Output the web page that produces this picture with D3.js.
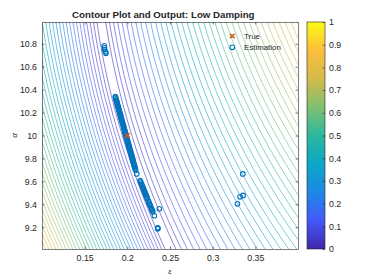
<!DOCTYPE html>
<html>
<head>
<meta charset="utf-8">
<script src="https://cdn.jsdelivr.net/npm/d3@7"></script>
<style>
  body { margin: 0; background: #fff; }
  text { font-family: "Liberation Sans", Arial, sans-serif; fill: #262626; }
</style>
</head>
<body>
<div id="chart"></div>
<script>
// ------------------- //
// DATA
// ------------------- //

// true parameter
var trueEps = [0.2];
var trueAlpha = [10.0];

// estimates (eps, alpha)
var estEps = [
  // top cluster
  0.1729, 0.1732, 0.1733, 0.1744, 0.1750,
  // main streak
  0.1860, 0.1861, 0.1868, 0.1867, 0.1875, 0.1876, 0.1883, 0.1882, 0.1890, 0.1889,
  0.1897, 0.1898, 0.1905, 0.1904, 0.1912, 0.1913, 0.1920, 0.1919, 0.1927, 0.1926,
  0.1934, 0.1935, 0.1942, 0.1941, 0.1949, 0.1950, 0.1957, 0.1956, 0.1964, 0.1963,
  0.1972, 0.1971, 0.1979, 0.1978, 0.1987, 0.1986, 0.1994, 0.1993, 0.2001, 0.2000,
  0.2009, 0.2008, 0.2016, 0.2015, 0.2024, 0.2023, 0.2031, 0.2030, 0.2039, 0.2038,
  0.2046, 0.2045, 0.2054, 0.2053, 0.2061, 0.2060, 0.2068, 0.2067, 0.2076, 0.2075,
  0.2083, 0.2082, 0.2091, 0.2090, 0.2098, 0.2110,
  // lower streak
  0.2149, 0.2156, 0.2160, 0.2168, 0.2172, 0.2180, 0.2184, 0.2192, 0.2196, 0.2204,
  0.2208, 0.2216, 0.2220, 0.2228, 0.2232, 0.2246, 0.2250, 0.2258, 0.2262, 0.2270,
  0.2282, 0.2286, 0.2294, 0.2298, 0.2317,
  // isolated and bottom cluster
  0.2375, 0.2355, 0.2357, 0.2356,
  // outliers on the right
  0.3353, 0.3356, 0.3321, 0.3290
];
var estAlpha = [
  10.783, 10.765, 10.748, 10.730, 10.717,
  10.340, 10.331, 10.320, 10.309, 10.300, 10.291, 10.280, 10.269, 10.260, 10.251,
  10.240, 10.229, 10.220, 10.211, 10.200, 10.189, 10.180, 10.171, 10.160, 10.149,
  10.140, 10.131, 10.120, 10.109, 10.100, 10.091, 10.080, 10.069, 10.060, 10.051,
  10.040, 10.029, 10.020, 10.011, 10.000, 9.989, 9.980, 9.971, 9.960, 9.949,
  9.940, 9.931, 9.920, 9.909, 9.900, 9.891, 9.880, 9.869, 9.860, 9.851,
  9.840, 9.829, 9.820, 9.811, 9.800, 9.789, 9.780, 9.771, 9.760, 9.749,
  9.740, 9.731, 9.720, 9.709, 9.697, 9.665,
  9.607, 9.596, 9.585, 9.574, 9.563, 9.552, 9.541, 9.530, 9.519, 9.508,
  9.497, 9.486, 9.475, 9.464, 9.453, 9.431, 9.420, 9.409, 9.398, 9.387,
  9.365, 9.354, 9.343, 9.334, 9.300,
  9.361, 9.195, 9.190, 9.186,
  9.665, 9.477, 9.465, 9.404
];

var xTicks = [0.15, 0.2, 0.25, 0.3, 0.35];
var yTicks = [9.2, 9.4, 9.6, 9.8, 10, 10.2, 10.4, 10.6, 10.8];
var cbTicks = [0, 0.1, 0.2, 0.3, 0.4, 0.5, 0.6, 0.7, 0.8, 0.9, 1];

// parula colormap stops
var parulaStops = ["#3e26a8", "#4658fc", "#1e88e4", "#0ca7c7", "#2cb89c",
                   "#80c070", "#d2bb4a", "#fdbe3c", "#f9fb15"];

// normalized cost surface, shaped after the contour spacing in the picture
var valleyCoef = [0.1995, -0.0403, 0.0104]; // eps of the valley floor vs (alpha - 10)
var leftSlope = 5.5;
var rightScale = 2.5, rightPow = 0.86, rightTilt = 0.17;
var firstLevel = 0.03, levelStep = 0.022;


// ------------------- //
// SETUP
// ------------------- //

var W = 374, H = 280;
var plot = {left: 42, right: 298, top: 22, bottom: 249};
var cb = {left: 307, right: 325};

var svg = d3.select("#chart")
  .append("svg")
    .attr("width", W)
    .attr("height", H);

var x = d3.scaleLinear().domain([0.1, 0.4]).range([plot.left, plot.right]);
var y = d3.scaleLinear().domain([9.01, 10.99]).range([plot.bottom, plot.top]);

var parula = d3.scaleLinear()
  .domain(parulaStops.map(function(d, i) { return i / (parulaStops.length - 1); }))
  .range(parulaStops)
  .clamp(true);

var defs = svg.append("defs");
defs.append("clipPath").attr("id", "clip")
  .append("rect")
    .attr("x", plot.left).attr("y", plot.top)
    .attr("width", plot.right - plot.left)
    .attr("height", plot.bottom - plot.top);


// ------------------- //
// CONTOURS
// ------------------- //

function cost(e, a) {
  var t = a - 10;
  var ev = valleyCoef[0] + valleyCoef[1] * t + valleyCoef[2] * t * t;
  var d = e - ev;
  if (d < 0) return leftSlope * -d;
  return rightScale * Math.pow(d, rightPow) * (1 + rightTilt * t);
}

var pad = 3;
var gx0 = plot.left - pad, gy0 = plot.top - pad;
var nx = Math.ceil(plot.right - plot.left) + 2 * pad;
var ny = Math.ceil(plot.bottom - plot.top) + 2 * pad;
var grid = new Array(nx * ny);
for (var j = 0; j < ny; j++) {
  for (var i = 0; i < nx; i++) {
    grid[j * nx + i] = cost(x.invert(gx0 + i), y.invert(gy0 + j));
  }
}

var levels = d3.range(firstLevel, 1, levelStep);
var contours = d3.contours().size([nx, ny]).thresholds(levels)(grid);

svg.append("g")
    .attr("clip-path", "url(#clip)")
  .append("g")
    .attr("transform", "translate(" + (gx0 - 0.5) + "," + (gy0 - 0.5) + ")")
  .selectAll("path")
  .data(contours)
  .enter()
  .append("path")
    .attr("d", d3.geoPath())
    .attr("fill", "none")
    .attr("stroke", function(d) { return parula(d.value); })
    .attr("stroke-width", 0.6);


// ------------------- //
// AXES
// ------------------- //

var axisCol = "#262626";
function styleAxis(g) {
  g.selectAll("path, line").attr("stroke", axisCol).attr("stroke-width", 0.6);
  g.selectAll("text").style("font-size", "8.8px").attr("fill", axisCol);
}

svg.append("g")
  .attr("transform", "translate(0," + plot.bottom + ")")
  .call(d3.axisBottom(x).tickValues(xTicks).tickSizeInner(-2.5).tickSizeOuter(0).tickPadding(6)
    .tickFormat(function(d) { return d; }))
  .call(styleAxis);
svg.append("g")
  .attr("transform", "translate(0," + plot.top + ")")
  .call(d3.axisTop(x).tickValues(xTicks).tickSizeInner(-2.5).tickSizeOuter(0).tickFormat(""))
  .call(styleAxis);
svg.append("g")
  .attr("transform", "translate(" + plot.left + ",0)")
  .call(d3.axisLeft(y).tickValues(yTicks).tickSizeInner(-2.5).tickSizeOuter(0).tickPadding(5)
    .tickFormat(function(d) { return d; }))
  .call(styleAxis);
svg.append("g")
  .attr("transform", "translate(" + plot.right + ",0)")
  .call(d3.axisRight(y).tickValues(yTicks).tickSizeInner(-2.5).tickSizeOuter(0).tickFormat(""))
  .call(styleAxis);

// axis labels
svg.append("text")
  .attr("x", (plot.left + plot.right) / 2)
  .attr("y", 274)
  .attr("text-anchor", "middle")
  .style("font-size", "8px")
  .style("font-style", "italic")
  .text("ε");
svg.append("text")
  .attr("transform", "translate(17," + ((plot.top + plot.bottom) / 2) + ") rotate(-90)")
  .attr("text-anchor", "middle")
  .style("font-size", "8px")
  .style("font-style", "italic")
  .text("α");

// title
svg.append("text")
  .attr("x", 163.3)
  .attr("y", 17.5)
  .attr("text-anchor", "middle")
  .style("font-size", "9.7px")
  .style("font-weight", "bold")
  .attr("fill", "#000")
  .text("Contour Plot and Output: Low Damping");


// ------------------- //
// MARKERS
// ------------------- //

var est = estEps.map(function(e, i) { return {e: e, a: estAlpha[i]}; });

svg.append("g")
  .selectAll("circle")
  .data(est)
  .enter()
  .append("circle")
    .attr("cx", function(d) { return x(d.e); })
    .attr("cy", function(d) { return y(d.a); })
    .attr("r", 2.3)
    .attr("fill", "none")
    .attr("stroke", "#0072BD")
    .attr("stroke-width", 1.1);

function xMark(g, cx, cy, s) {
  g.append("path")
    .attr("d", "M" + (cx - s) + "," + (cy - s) + "L" + (cx + s) + "," + (cy + s) +
               "M" + (cx - s) + "," + (cy + s) + "L" + (cx + s) + "," + (cy - s))
    .attr("stroke", "#D95319")
    .attr("stroke-width", 1.6)
    .attr("fill", "none");
}
trueEps.forEach(function(e, i) { xMark(svg, x(e), y(trueAlpha[i]), 2.3); });

// legend
var leg = svg.append("g");
xMark(leg, 232.3, 36, 2.3);
leg.append("circle")
  .attr("cx", 232.3).attr("cy", 47.3).attr("r", 2.3)
  .attr("fill", "none").attr("stroke", "#0072BD").attr("stroke-width", 1.1);
leg.append("text").attr("x", 244).attr("y", 38.8).style("font-size", "7.9px").text("True");
leg.append("text").attr("x", 244).attr("y", 50.1).style("font-size", "7.9px").text("Estimation");


// ------------------- //
// COLORBAR
// ------------------- //

var grad = defs.append("linearGradient")
  .attr("id", "parula")
  .attr("x1", 0).attr("y1", 1).attr("x2", 0).attr("y2", 0);
grad.selectAll("stop")
  .data(parulaStops)
  .enter()
  .append("stop")
    .attr("offset", function(d, i) { return i / (parulaStops.length - 1); })
    .attr("stop-color", function(d) { return d; });

svg.append("rect")
  .attr("x", cb.left).attr("y", plot.top)
  .attr("width", cb.right - cb.left)
  .attr("height", plot.bottom - plot.top)
  .attr("fill", "url(#parula)")
  .attr("stroke", axisCol)
  .attr("stroke-width", 0.6);

var cbScale = d3.scaleLinear().domain([0, 1]).range([plot.bottom, plot.top]);
svg.append("g")
  .attr("transform", "translate(" + cb.right + ",0)")
  .call(d3.axisRight(cbScale).tickValues(cbTicks).tickSizeInner(-2.5).tickSizeOuter(0).tickPadding(4)
    .tickFormat(function(d) { return d; }))
  .call(styleAxis)
  .select(".domain").remove();
</script>
</body>
</html>
